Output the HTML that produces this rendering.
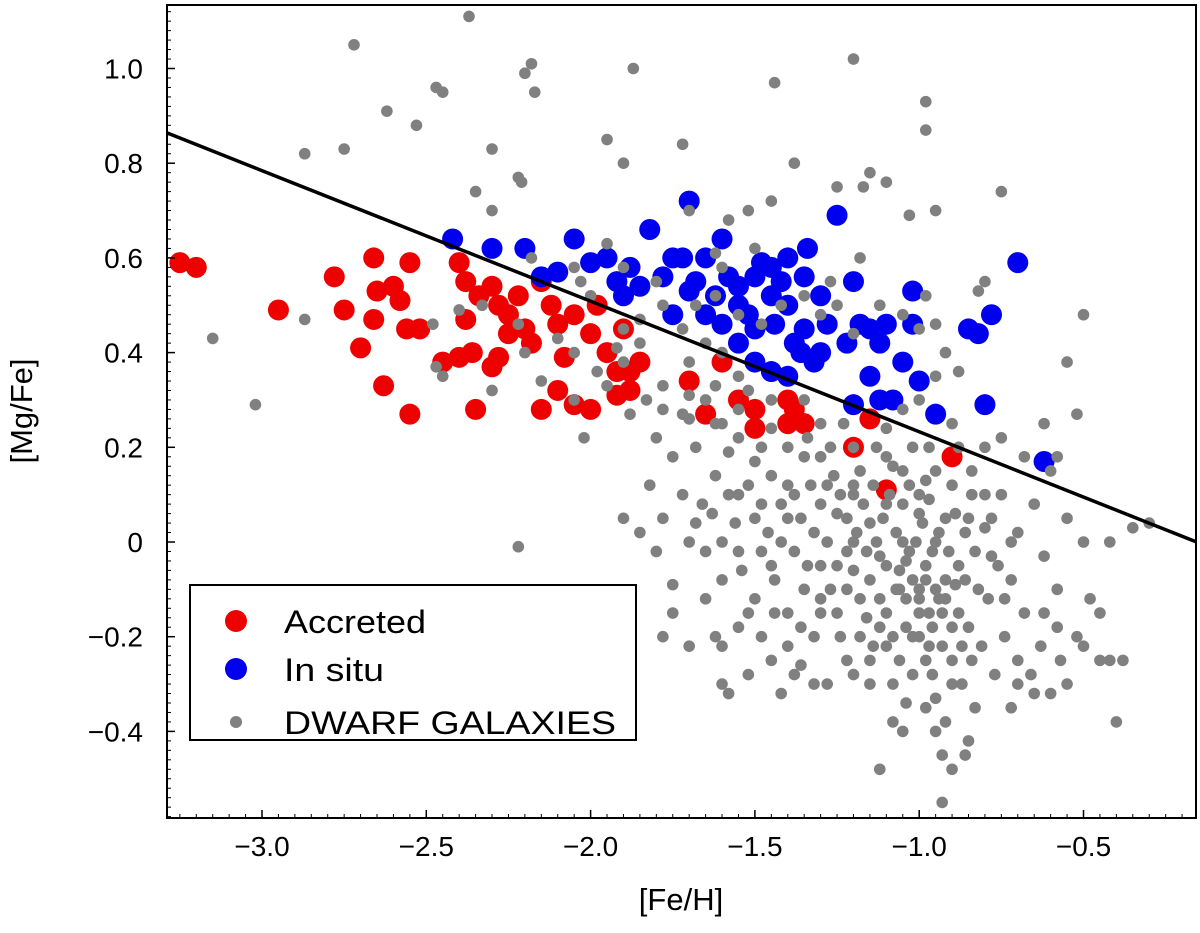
<!DOCTYPE html>
<html><head><meta charset="utf-8"><style>
html,body{margin:0;padding:0;background:#fff;}
svg{display:block;font-family:"Liberation Sans","DejaVu Sans",sans-serif;}
</style></head><body>
<svg id="chart" width="1200" height="933" viewBox="0 0 1200 933" xmlns="http://www.w3.org/2000/svg">
<g id="marks"></g>
<g id="axes"></g>
<text x="681" y="910" font-size="31" text-anchor="middle">[Fe/H]</text>
<text transform="translate(32,411) rotate(-90)" font-size="31" text-anchor="middle">[Mg/Fe]</text>
<g>
<rect x="190" y="585" width="446" height="155" fill="#fff" stroke="#000" stroke-width="2"/>
<circle cx="236" cy="621" r="11" fill="#ee0000"/>
<text x="284" y="633" font-size="32" textLength="142" lengthAdjust="spacingAndGlyphs">Accreted</text>
<circle cx="236" cy="669" r="11" fill="#0000ee"/>
<text x="284" y="681" font-size="32" textLength="100" lengthAdjust="spacingAndGlyphs">In situ</text>
<circle cx="236" cy="722" r="6" fill="#808080"/>
<text x="284" y="734" font-size="32" textLength="332" lengthAdjust="spacingAndGlyphs">DWARF GALAXIES</text>
</g>
</svg>
<script>
const xTicks=[-3.0,-2.5,-2.0,-1.5,-1.0,-0.5];
const xTickLabels=["\u22123.0","\u22122.5","\u22122.0","\u22121.5","\u22121.0","\u22120.5"];
const yTicks=[1.0,0.8,0.6,0.4,0.2,0,-0.2,-0.4];
const yTickLabels=["1.0","0.8","0.6","0.4","0.2","0","\u22120.2","\u22120.4"];
const lineFe=[-3.289,-0.156];
const lineMg=[0.864,0.0];
const grayPts=[[-2.37,1.11],[-2.72,1.05],[-2.18,1.01],[-2.2,0.99],[-1.87,1.0],[-2.47,0.96],[-2.45,0.95],[-2.17,0.95],[-1.44,0.97],[-1.2,1.02],[-0.98,0.93],[-2.62,0.91],[-2.53,0.88],[-2.87,0.82],[-2.75,0.83],[-2.3,0.83],[-1.95,0.85],[-1.9,0.8],[-1.72,0.84],[-1.38,0.8],[-1.15,0.78],[-1.1,0.76],[-0.98,0.87],[-1.17,0.75],[-2.22,0.77],[-2.21,0.76],[-2.35,0.74],[-2.3,0.7],[-1.7,0.7],[-1.52,0.7],[-1.45,0.72],[-1.58,0.68],[-1.25,0.75],[-0.95,0.7],[-0.75,0.74],[-1.03,0.69],[-0.8,0.55],[-0.82,0.53],[-3.15,0.43],[-2.87,0.47],[-3.02,0.29],[-2.48,0.46],[-2.47,0.37],[-2.22,0.46],[-2.18,0.6],[-2.05,0.58],[-2.03,0.55],[-1.95,0.63],[-1.9,0.58],[-1.8,0.55],[-1.78,0.5],[-1.72,0.45],[-1.85,0.47],[-1.92,0.41],[-1.9,0.38],[-1.95,0.33],[-1.98,0.36],[-1.83,0.3],[-1.78,0.33],[-1.7,0.31],[-1.72,0.27],[-1.65,0.3],[-1.62,0.33],[-1.6,0.25],[-1.55,0.28],[-1.52,0.32],[-1.68,0.5],[-1.62,0.52],[-1.55,0.48],[-1.48,0.46],[-1.42,0.5],[-1.35,0.52],[-1.3,0.48],[-1.25,0.5],[-1.2,0.44],[-1.12,0.5],[-1.05,0.48],[-0.98,0.52],[-1.0,0.45],[-0.95,0.46],[-0.92,0.4],[-0.88,0.36],[-0.95,0.35],[-1.0,0.3],[-1.05,0.28],[-1.1,0.24],[-2.22,-0.01],[-1.62,0.61],[-1.5,0.62],[-1.6,0.58],[-1.27,0.55],[-1.18,0.6],[-2.4,0.49],[-2.33,0.5],[-2.45,0.35],[-2.2,0.4],[-2.1,0.43],[-2.05,0.4],[-2.02,0.22],[-1.8,0.22],[-1.7,0.26],[-1.75,0.18],[-1.72,0.1],[-1.78,0.05],[-1.8,-0.02],[-1.7,0.0],[-1.66,0.08],[-1.62,0.14],[-1.58,0.19],[-1.55,0.1],[-1.5,0.17],[-1.48,0.08],[-1.45,0.14],[-1.42,0.0],[-1.4,0.05],[-1.38,0.1],[-1.35,0.18],[-1.32,0.02],[-1.3,-0.05],[-1.28,0.12],[-1.25,0.06],[-1.22,-0.02],[-1.2,0.1],[-1.18,0.15],[-1.15,0.04],[-1.12,-0.03],[-1.1,0.08],[-1.08,0.16],[-1.05,0.0],[-1.02,-0.08],[-1.0,0.06],[-0.98,0.13],[-0.96,-0.02],[-0.94,-0.12],[-0.92,0.05],[-0.9,0.12],[-0.88,-0.05],[-0.86,0.02],[-0.84,0.1],[-0.82,-0.1],[-0.8,0.03],[-0.78,-0.03],[-0.75,0.1],[-0.72,-0.08],[-0.7,0.02],[-0.68,-0.15],[-0.65,0.08],[-0.62,-0.03],[-0.6,0.15],[-0.58,-0.1],[-0.55,0.05],[-0.52,-0.2],[-0.5,0.0],[-0.48,-0.12],[-0.45,-0.25],[-0.42,-0.25],[-0.4,-0.38],[-0.35,0.03],[-0.3,0.04],[-0.42,0.0],[-0.5,0.48],[-0.55,0.38],[-0.52,0.27],[-0.58,0.18],[-0.62,0.25],[-1.35,-0.1],[-1.4,-0.15],[-1.45,-0.05],[-1.5,-0.12],[-1.55,-0.02],[-1.6,-0.08],[-1.62,-0.2],[-1.65,-0.12],[-1.7,-0.22],[-1.75,-0.09],[-1.32,-0.2],[-1.28,-0.3],[-1.25,-0.15],[-1.22,-0.25],[-1.2,-0.06],[-1.18,-0.2],[-1.15,-0.3],[-1.12,-0.12],[-1.1,-0.22],[-1.08,-0.38],[-1.06,-0.06],[-1.04,-0.18],[-1.02,-0.28],[-1.0,-0.12],[-0.98,-0.05],[-0.97,-0.22],[-0.95,-0.33],[-0.93,-0.15],[-0.92,-0.38],[-0.9,-0.25],[-0.89,-0.09],[-0.87,-0.3],[-0.86,-0.45],[-0.85,-0.18],[-0.83,-0.35],[-0.81,-0.22],[-0.79,-0.12],[-0.77,-0.28],[-0.74,-0.2],[-0.72,-0.35],[-0.7,-0.25],[-0.66,-0.28],[-0.63,-0.22],[-0.6,-0.32],[-0.57,-0.25],[-0.55,-0.3],[-0.93,-0.55],[-1.12,-0.48],[-0.85,-0.42],[-1.3,-0.12],[-1.45,-0.25],[-1.55,-0.18],[-1.6,-0.22],[-1.38,-0.28],[-1.42,-0.32],[-1.0,-0.2],[-1.0,-0.1],[-1.03,-0.02],[-1.07,-0.1],[-0.95,0.0],[-0.9,-0.18],[-1.15,-0.08],[-1.2,0.0],[-1.25,-0.05],[-1.1,-0.15],[-0.97,-0.15],[-0.92,-0.08],[-1.13,0.2],[-1.27,0.2],[-1.23,0.25],[-1.3,0.25],[-1.45,0.24],[-0.97,0.2],[-0.9,0.25],[-0.8,0.2],[-0.75,0.22],[-0.68,0.18],[-1.35,0.3],[-2.05,0.3],[-2.15,0.34],[-2.3,0.32]];
const grayCore=[[-1.26,0.14],[-1.24,0.1],[-1.22,0.05],[-1.2,0.12],[-1.19,0.02],[-1.17,0.08],[-1.16,-0.02],[-1.14,0.12],[-1.13,0.0],[-1.11,0.05],[-1.1,-0.05],[-1.09,0.1],[-1.07,0.02],[-1.06,-0.1],[-1.05,0.08],[-1.04,-0.04],[-1.03,0.12],[-1.01,0.0],[-1.0,-0.15],[-0.99,0.04],[-0.98,-0.08],[-0.97,0.09],[-0.96,-0.18],[-0.95,-0.1],[-0.94,0.02],[-0.93,-0.22],[-0.92,-0.12],[-0.91,-0.02],[-0.9,-0.3],[-0.89,0.06],[-0.88,-0.15],[-0.87,-0.22],[-0.86,-0.08],[-0.85,0.05],[-0.84,-0.25],[-0.83,-0.02],[-1.18,-0.12],[-1.16,-0.16],[-1.14,-0.22],[-1.12,-0.18],[-1.08,-0.2],[-1.06,-0.25],[-1.04,-0.12],[-1.02,-0.2],[-0.98,-0.25],[-0.96,-0.28],[-1.28,0.0],[-1.3,0.08],[-1.33,0.12],[-1.36,0.05],[-1.38,-0.02],[-1.4,0.12],[-1.42,0.08],[-1.44,-0.08],[-1.46,0.02],[-1.48,-0.02],[-1.5,0.05],[-1.52,0.12],[-1.54,-0.06],[-1.56,0.04],[-1.58,0.1],[-1.6,0.0],[-1.63,0.06],[-1.65,-0.02],[-1.68,0.04],[-1.52,-0.15],[-1.48,-0.2],[-1.44,-0.15],[-1.4,-0.22],[-1.36,-0.18],[-1.34,-0.05],[-1.3,-0.15],[-1.27,-0.1],[-1.24,-0.2],[-1.22,-0.1],[-1.2,-0.28],[-1.15,-0.25],[-1.08,-0.3],[-1.04,-0.34],[-0.98,-0.35],[-0.95,-0.4],[-0.93,-0.45],[-1.3,0.18],[-1.34,0.22],[-1.4,0.2],[-1.48,0.2],[-1.55,0.22],[-1.62,0.25],[-1.68,0.2],[-1.05,0.15],[-1.02,0.2],[-0.95,0.15],[-0.88,0.2],[-0.84,0.15],[-0.8,0.1],[-0.78,0.05],[-0.76,-0.05],[-0.74,-0.12],[-0.72,0.0],[-1.0,0.1],[-1.1,0.18],[-1.2,0.2],[-1.45,0.3],[-1.55,0.35],[-1.65,0.42],[-1.7,0.38],[-1.85,0.42],[-1.9,0.45],[-2.0,0.52],[-1.88,0.27],[-1.78,0.28],[-1.6,0.4],[-1.32,-0.3],[-1.36,-0.26],[-1.52,-0.28],[-1.6,-0.3],[-1.58,-0.32],[-1.75,-0.15],[-1.78,-0.2],[-1.82,0.12],[-1.85,0.02],[-1.9,0.05],[-1.05,-0.4],[-0.9,-0.48],[-0.7,-0.3],[-0.65,-0.32],[-0.62,-0.15],[-0.58,-0.18],[-0.5,-0.22],[-0.45,-0.15],[-0.38,-0.25]];
const redPts=[[-3.25,0.59],[-3.2,0.58],[-2.95,0.49],[-2.78,0.56],[-2.75,0.49],[-2.7,0.41],[-2.66,0.6],[-2.65,0.53],[-2.66,0.47],[-2.6,0.54],[-2.58,0.51],[-2.55,0.59],[-2.56,0.45],[-2.52,0.45],[-2.63,0.33],[-2.55,0.27],[-2.4,0.59],[-2.38,0.55],[-2.4,0.39],[-2.36,0.4],[-2.35,0.28],[-2.34,0.52],[-2.3,0.54],[-2.28,0.5],[-2.25,0.48],[-2.28,0.39],[-2.3,0.37],[-2.22,0.52],[-2.2,0.45],[-2.18,0.42],[-2.15,0.55],[-2.12,0.5],[-2.1,0.46],[-2.08,0.39],[-2.05,0.48],[-2.1,0.32],[-2.05,0.29],[-2.0,0.28],[-2.15,0.28],[-2.0,0.44],[-1.95,0.4],[-1.92,0.36],[-1.88,0.32],[-1.85,0.38],[-1.9,0.45],[-1.7,0.34],[-1.65,0.27],[-1.6,0.38],[-1.55,0.3],[-1.5,0.28],[-1.5,0.24],[-1.4,0.3],[-1.38,0.28],[-1.35,0.25],[-1.4,0.25],[-1.2,0.2],[-1.15,0.26],[-1.1,0.11],[-0.9,0.18],[-2.45,0.38],[-2.38,0.47],[-2.25,0.44],[-1.98,0.5],[-1.92,0.31],[-1.88,0.36]];
const bluePts=[[-2.42,0.64],[-2.3,0.62],[-2.2,0.62],[-2.1,0.57],[-2.05,0.64],[-2.0,0.59],[-1.95,0.6],[-1.9,0.52],[-1.85,0.54],[-1.82,0.66],[-1.78,0.56],[-1.75,0.6],[-1.72,0.6],[-1.7,0.72],[-1.68,0.55],[-1.65,0.6],[-1.62,0.52],[-1.6,0.64],[-1.58,0.56],[-1.55,0.5],[-1.52,0.48],[-1.5,0.56],[-1.48,0.59],[-1.45,0.52],[-1.44,0.46],[-1.42,0.55],[-1.4,0.5],[-1.38,0.42],[-1.36,0.4],[-1.35,0.56],[-1.34,0.62],[-1.32,0.38],[-1.3,0.52],[-1.28,0.46],[-1.25,0.69],[-1.22,0.42],[-1.2,0.55],[-1.18,0.46],[-1.15,0.45],[-1.12,0.42],[-1.1,0.46],[-1.05,0.38],[-1.02,0.46],[-1.02,0.53],[-1.08,0.3],[-1.12,0.3],[-1.2,0.29],[-0.95,0.27],[-0.85,0.45],[-0.82,0.44],[-0.78,0.48],[-0.8,0.29],[-0.7,0.59],[-0.62,0.17],[-1.55,0.42],[-1.6,0.46],[-1.65,0.48],[-1.7,0.53],[-1.75,0.48],[-1.5,0.38],[-1.45,0.36],[-1.4,0.35],[-1.3,0.4],[-1.35,0.45],[-1.5,0.45],[-1.55,0.54],[-1.45,0.58],[-1.4,0.6],[-2.15,0.56],[-1.88,0.58],[-1.92,0.55],[-1.0,0.34],[-1.15,0.35]];

const NS='http://www.w3.org/2000/svg';
const L=167,R=1196,T=5,B=818;
function X(v){return 262+(v+3.0)*328.6;}
function Y(v){return 542-v*473.5;}
const marks=document.getElementById('marks');
const axes=document.getElementById('axes');
function mk(tag,attrs,parent){const e=document.createElementNS(NS,tag);for(const k in attrs)e.setAttribute(k,attrs[k]);parent.appendChild(e);return e;}
const clip=mk('clipPath',{id:'pc'},marks);
mk('rect',{x:L,y:T,width:R-L,height:B-T},clip);
const g=mk('g',{'clip-path':'url(#pc)'},marks);
function drawPts(pts,r,color,name){
  for(const p of pts){
    const c=mk('circle',{cx:X(p[0]),cy:Y(p[1]),r:r,fill:color},g);
    
    
  }
}
drawPts(redPts,10.5,'#ee0000','accreted-point');
drawPts(bluePts,10.5,'#0000ee','in-situ-point');
drawPts(grayPts,5.8,'#808080','dwarf-galaxy-point');
drawPts(grayCore,5.8,'#808080','dwarf-galaxy-point');
const ln=mk('line',{x1:X(lineFe[0]),y1:Y(lineMg[0]),x2:X(lineFe[1]),y2:Y(lineMg[1]),stroke:'#000','stroke-width':3.5},g);


const fr=mk('rect',{x:L,y:T,width:R-L,height:B-T,fill:'none',stroke:'#000','stroke-width':2},axes);


xTicks.forEach((v,i)=>{
  mk('line',{x1:X(v),y1:B,x2:X(v),y2:B-8,stroke:'#000','stroke-width':1.5},axes);
  const t=mk('text',{x:X(v),y:B+38,'font-size':28,'text-anchor':'middle'},axes);
  t.textContent=xTickLabels[i];
  
  
});
for(let v=-3.25;v<=-0.16;v+=0.05){const x=X(v);if(x>L+1&&x<R-1)mk('line',{x1:x,y1:B,x2:x,y2:B-4,stroke:'#000','stroke-width':1},axes);}
yTicks.forEach((v,i)=>{
  mk('line',{x1:L,y1:Y(v),x2:L+8,y2:Y(v),stroke:'#000','stroke-width':1.5},axes);
  const t=mk('text',{x:L-24,y:Y(v)+10,'font-size':28,'text-anchor':'end'},axes);
  t.textContent=yTickLabels[i];
  
  
});
for(let v=-0.58;v<=1.13;v+=0.02){const y=Y(v);if(y>T+1&&y<B-1)mk('line',{x1:L,y1:y,x2:L+4,y2:y,stroke:'#000','stroke-width':1},axes);}
</script>
</body></html>
